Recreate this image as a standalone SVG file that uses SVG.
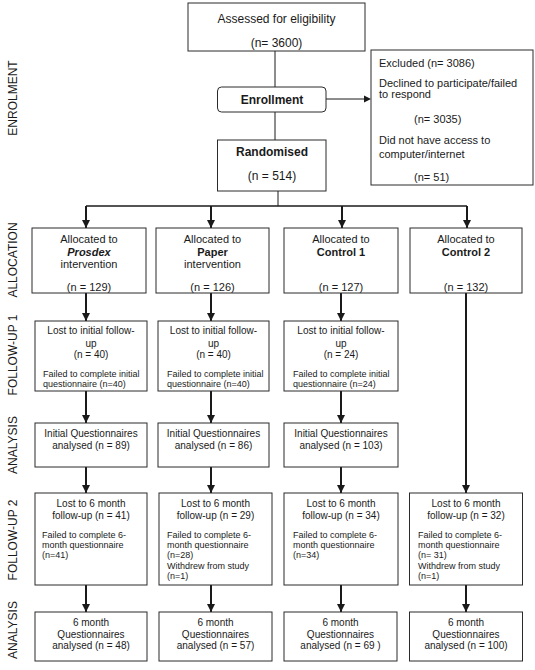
<svg xmlns="http://www.w3.org/2000/svg" width="535" height="670" viewBox="0 0 535 670">
<defs>
<style>
text{font-family:"Liberation Sans",Arial,sans-serif;fill:#1a1a1a}
.box{fill:#fff;stroke:#2a2a2a;stroke-width:1}
.t12{font-size:12px}
.t11{font-size:11px}
.t10{font-size:10px}
.t9{font-size:9px}
.c{text-anchor:middle}
.b{font-weight:bold}
.lab{font-size:12px;text-anchor:middle}
.ln{stroke:#1a1a1a;stroke-width:1;fill:none}
.ar{stroke:#1a1a1a;stroke-width:2;fill:none;marker-end:url(#ah)}
</style>
<marker id="ah" markerWidth="8" markerHeight="8" refX="8" refY="4" orient="auto" markerUnits="userSpaceOnUse"><path d="M0,0 L8,4 L0,8 z" fill="#1a1a1a"/></marker>
</defs>
<rect width="535" height="670" fill="#fff"/>

<g id="stage-labels">
<text class="lab" transform="translate(16.5,98) rotate(-90)">ENROLMENT</text>
<text class="lab" transform="translate(16.5,260) rotate(-90)">ALLOCATION</text>
<text class="lab" transform="translate(16.5,355) rotate(-90)">FOLLOW-UP 1</text>
<text class="lab" transform="translate(16.5,445) rotate(-90)">ANALYSIS</text>
<text class="lab" transform="translate(16.5,540) rotate(-90)">FOLLOW-UP 2</text>
<text class="lab" transform="translate(16.5,630) rotate(-90)">ANALYSIS</text>
</g>

<g id="connectors">
<line class="ln" x1="275" y1="51" x2="275" y2="87"/>
<line class="ln" x1="275" y1="112" x2="275" y2="140"/>
<line class="ln" x1="278" y1="191" x2="278" y2="206"/>
<line class="ln" x1="326" y1="99" x2="364" y2="99"/>
<path d="M364,95.5 L371,99 L364,102.5 z" fill="#1a1a1a"/>
<line class="ln" x1="86" y1="206" x2="467" y2="206" style="stroke-width:1.5"/>
<line class="ar" x1="86" y1="206" x2="86" y2="228"/>
<line class="ar" x1="211" y1="206" x2="211" y2="228"/>
<line class="ar" x1="342" y1="206" x2="342" y2="228"/>
<line class="ar" x1="467" y1="206" x2="467" y2="228"/>
<line class="ar" x1="86" y1="293" x2="86" y2="321"/>
<line class="ar" x1="211" y1="293" x2="211" y2="321"/>
<line class="ar" x1="341" y1="293" x2="341" y2="321"/>
<line class="ar" x1="86" y1="391" x2="86" y2="423"/>
<line class="ar" x1="211" y1="391" x2="211" y2="423"/>
<line class="ar" x1="341" y1="391" x2="341" y2="423"/>
<line class="ar" x1="86" y1="467" x2="86" y2="493"/>
<line class="ar" x1="211" y1="467" x2="211" y2="493"/>
<line class="ar" x1="341" y1="467" x2="341" y2="493"/>
<line class="ar" x1="466" y1="293" x2="466" y2="493"/>
<line class="ar" x1="86" y1="585" x2="86" y2="612"/>
<line class="ar" x1="211" y1="585" x2="211" y2="612"/>
<line class="ar" x1="341" y1="585" x2="341" y2="612"/>
<line class="ar" x1="466" y1="585" x2="466" y2="612"/>
</g>

<g id="assessed">
<rect class="box" x="188" y="3" width="177" height="48"/>
<text class="t12 c" x="276.5" y="23">Assessed for eligibility</text>
<text class="t12 c" x="276.5" y="47">(n= 3600)</text>
</g>

<g id="enrollment">
<rect class="box" x="217.5" y="87" width="108.5" height="25" rx="4"/>
<text class="t12 c b" x="272" y="104">Enrollment</text>
</g>

<g id="excluded">
<rect class="box" x="371" y="50" width="162" height="135"/>
<text class="t11" x="379" y="67">Excluded (n= 3086)</text>
<text class="t11" x="379" y="87">Declined to participate/failed</text>
<text class="t11" x="379" y="98">to respond</text>
<text class="t11" x="414" y="123">(n= 3035)</text>
<text class="t11" x="379" y="144">Did not have access to</text>
<text class="t11" x="379" y="158">computer/internet</text>
<text class="t11" x="414" y="181">(n= 51)</text>
</g>

<g id="randomised">
<rect class="box" x="217.5" y="140" width="108.5" height="51"/>
<text class="t12 c b" x="272" y="156">Randomised</text>
<text class="t12 c" x="272" y="180">(n = 514)</text>
</g>

<g id="alloc-prosdex">
<rect class="box" x="32" y="228" width="114" height="65"/>
<text class="t11 c" x="89" y="243">Allocated to</text>
<text class="t11 c b" x="89" y="256" font-style="italic">Prosdex</text>
<text class="t11 c" x="89" y="268">intervention</text>
<text class="t11 c" x="89" y="291">(n = 129)</text>
</g>
<g id="alloc-paper">
<rect class="box" x="156" y="228" width="113" height="65"/>
<text class="t11 c" x="212.5" y="243">Allocated to</text>
<text class="t11 c b" x="212.5" y="256">Paper</text>
<text class="t11 c" x="212.5" y="268">intervention</text>
<text class="t11 c" x="212.5" y="291">(n = 126)</text>
</g>
<g id="alloc-control1">
<rect class="box" x="284" y="228" width="114" height="65"/>
<text class="t11 c" x="341" y="243">Allocated to</text>
<text class="t11 c b" x="341" y="256">Control 1</text>
<text class="t11 c" x="341" y="291">(n = 127)</text>
</g>
<g id="alloc-control2">
<rect class="box" x="410" y="228" width="112" height="65"/>
<text class="t11 c" x="466" y="243">Allocated to</text>
<text class="t11 c b" x="466" y="256">Control 2</text>
<text class="t11 c" x="466" y="291">(n = 132)</text>
</g>

<g id="fu1-prosdex">
<rect class="box" x="35" y="321" width="112" height="70"/>
<text class="t10 c" x="91" y="333.5">Lost to initial follow-</text>
<text class="t10 c" x="91" y="346.5">up</text>
<text class="t10 c" x="91" y="357.5">(n = 40)</text>
<text class="t9" x="43" y="377">Failed to complete initial</text>
<text class="t9" x="43" y="387">questionnaire (n=40)</text>
</g>
<g id="fu1-paper">
<rect class="box" x="158" y="321" width="111" height="70"/>
<text class="t10 c" x="213.5" y="333.5">Lost to initial follow-</text>
<text class="t10 c" x="213.5" y="346.5">up</text>
<text class="t10 c" x="213.5" y="357.5">(n = 40)</text>
<text class="t9" x="167" y="377">Failed to complete initial</text>
<text class="t9" x="167" y="387">questionnaire (n=40)</text>
</g>
<g id="fu1-control1">
<rect class="box" x="284" y="321" width="114" height="70"/>
<text class="t10 c" x="341" y="333.5">Lost to initial follow-</text>
<text class="t10 c" x="341" y="346.5">up</text>
<text class="t10 c" x="341" y="357.5">(n = 24)</text>
<text class="t9" x="293" y="377">Failed to complete initial</text>
<text class="t9" x="293" y="387">questionnaire (n=24)</text>
</g>

<g id="an1-prosdex">
<rect class="box" x="35" y="423" width="112" height="44"/>
<text class="t10 c" x="91" y="436.5">Initial Questionnaires</text>
<text class="t10 c" x="91" y="448.5">analysed (n = 89)</text>
</g>
<g id="an1-paper">
<rect class="box" x="158" y="423" width="111" height="44"/>
<text class="t10 c" x="213.5" y="436.5">Initial Questionnaires</text>
<text class="t10 c" x="213.5" y="448.5">analysed (n = 86)</text>
</g>
<g id="an1-control1">
<rect class="box" x="284" y="423" width="114" height="44"/>
<text class="t10 c" x="341" y="436.5">Initial Questionnaires</text>
<text class="t10 c" x="341" y="448.5">analysed (n = 103)</text>
</g>

<g id="fu2-prosdex">
<rect class="box" x="35" y="493" width="112" height="92"/>
<text class="t10 c" x="91" y="506.5">Lost to 6 month</text>
<text class="t10 c" x="91" y="518.5">follow-up (n = 41)</text>
<text class="t9" x="42" y="538">Failed to complete 6-</text>
<text class="t9" x="42" y="548">month questionnaire</text>
<text class="t9" x="42" y="558">(n=41)</text>
</g>
<g id="fu2-paper">
<rect class="box" x="159" y="493" width="113" height="92"/>
<text class="t10 c" x="215.5" y="506.5">Lost to 6 month</text>
<text class="t10 c" x="215.5" y="518.5">follow-up (n = 29)</text>
<text class="t9" x="167" y="538">Failed to complete 6-</text>
<text class="t9" x="167" y="548">month questionnaire</text>
<text class="t9" x="167" y="558">(n=28)</text>
<text class="t9" x="167" y="569">Withdrew from study</text>
<text class="t9" x="167" y="579">(n=1)</text>
</g>
<g id="fu2-control1">
<rect class="box" x="284" y="493" width="114" height="92"/>
<text class="t10 c" x="341" y="506.5">Lost to 6 month</text>
<text class="t10 c" x="341" y="518.5">follow-up (n = 34)</text>
<text class="t9" x="293" y="538">Failed to complete 6-</text>
<text class="t9" x="293" y="548">month questionnaire</text>
<text class="t9" x="293" y="558">(n=34)</text>
</g>
<g id="fu2-control2">
<rect class="box" x="409.5" y="493" width="113" height="92"/>
<text class="t10 c" x="466" y="506.5">Lost to 6 month</text>
<text class="t10 c" x="466" y="518.5">follow-up (n = 32)</text>
<text class="t9" x="418" y="538">Failed to complete 6-</text>
<text class="t9" x="418" y="548">month questionnaire</text>
<text class="t9" x="418" y="558">(n= 31)</text>
<text class="t9" x="418" y="569">Withdrew from study</text>
<text class="t9" x="418" y="579">(n=1)</text>
</g>

<g id="an2-prosdex">
<rect class="box" x="35" y="612" width="112" height="49"/>
<text class="t10 c" x="91" y="625.5">6 month</text>
<text class="t10 c" x="91" y="637.5">Questionnaires</text>
<text class="t10 c" x="91" y="648.5">analysed (n = 48)</text>
</g>
<g id="an2-paper">
<rect class="box" x="159" y="612" width="113" height="49"/>
<text class="t10 c" x="215.5" y="625.5">6 month</text>
<text class="t10 c" x="215.5" y="637.5">Questionnaires</text>
<text class="t10 c" x="215.5" y="648.5">analysed (n = 57)</text>
</g>
<g id="an2-control1">
<rect class="box" x="284" y="612" width="113" height="49"/>
<text class="t10 c" x="340.5" y="625.5">6 month</text>
<text class="t10 c" x="340.5" y="637.5">Questionnaires</text>
<text class="t10 c" x="340.5" y="648.5">analysed (n = 69 )</text>
</g>
<g id="an2-control2">
<rect class="box" x="409.5" y="612" width="113" height="49"/>
<text class="t10 c" x="466" y="625.5">6 month</text>
<text class="t10 c" x="466" y="637.5">Questionnaires</text>
<text class="t10 c" x="466" y="648.5">analysed (n = 100)</text>
</g>
</svg>
